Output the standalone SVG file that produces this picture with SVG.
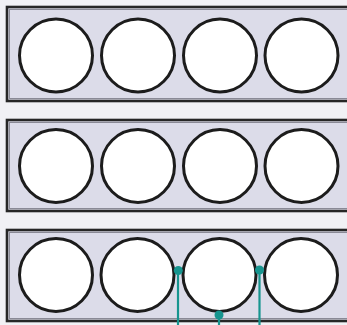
<svg xmlns="http://www.w3.org/2000/svg" width="347" height="325" viewBox="0 0 347 325">
  <defs>
    <style>
      .bg { fill: #f1f1f5; }
      .box { fill: #dcdce9; stroke: #262626; stroke-width: 2.6; }
      .inner { fill: none; stroke: #8a8a96; stroke-width: 1; }
      .cyl { fill: #ffffff; stroke: #1c1c1c; stroke-width: 3; }
      .wire { stroke: #17958f; stroke-width: 2.2; fill: none; }
      .dot { fill: #17958f; }
    </style>
  </defs>
  <rect class="bg" x="0" y="0" width="347" height="325"/>

  <g id="row1">
    <rect class="box" x="7" y="7" width="360" height="94"/>
    <rect class="inner" x="9.5" y="9.5" width="360" height="89"/>
    <g id="r1c1"><circle class="cyl" cx="56" cy="55.5" r="36.5"/></g>
    <g id="r1c2"><circle class="cyl" cx="138" cy="55.5" r="36.5"/></g>
    <g id="r1c3"><circle class="cyl" cx="220" cy="55.5" r="36.5"/></g>
    <g id="r1c4"><circle class="cyl" cx="301.5" cy="55.5" r="36.5"/></g>
  </g>

  <g id="row2">
    <rect class="box" x="7" y="120" width="360" height="91"/>
    <rect class="inner" x="9.5" y="122.5" width="360" height="86"/>
    <g id="r2c1"><circle class="cyl" cx="56" cy="166" r="36.5"/></g>
    <g id="r2c2"><circle class="cyl" cx="138" cy="166" r="36.5"/></g>
    <g id="r2c3"><circle class="cyl" cx="220" cy="166" r="36.5"/></g>
    <g id="r2c4"><circle class="cyl" cx="301.5" cy="166" r="36.5"/></g>
  </g>

  <g id="row3">
    <rect class="box" x="7" y="230" width="360" height="91"/>
    <rect class="inner" x="9.5" y="232.5" width="360" height="86"/>
    <g id="r3c1"><circle class="cyl" cx="56" cy="275" r="36.5"/></g>
    <g id="r3c2"><circle class="cyl" cx="137.5" cy="275" r="36.5"/></g>
    <g id="r3c3"><circle class="cyl" cx="219.5" cy="275" r="36.5"/></g>
    <g id="r3c4"><circle class="cyl" cx="301" cy="275" r="36.5"/></g>
  </g>

  <g id="connectors">
    <line class="wire" x1="178" y1="270.5" x2="178" y2="325"/>
    <line class="wire" x1="259.5" y1="270" x2="259.5" y2="325"/>
    <line class="wire" x1="219" y1="315" x2="219" y2="325"/>
    <circle class="dot" cx="178.3" cy="270.5" r="4.5"/>
    <circle class="dot" cx="259.5" cy="270" r="4.5"/>
    <circle class="dot" cx="219" cy="315" r="4.5"/>
  </g>
</svg>
